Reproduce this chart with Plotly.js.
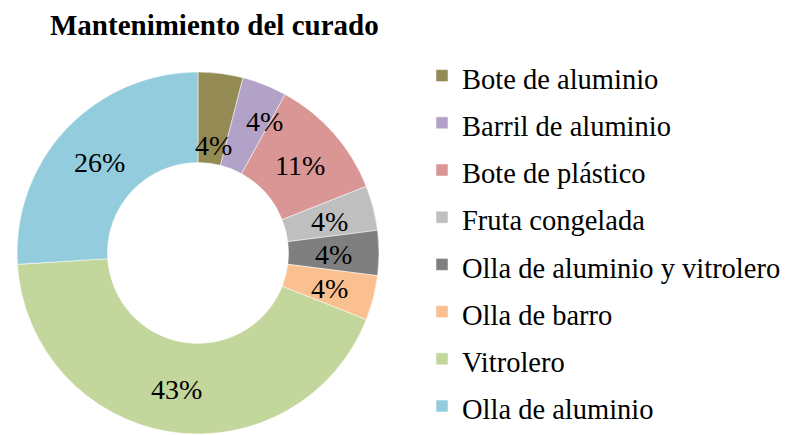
<!DOCTYPE html>
<html><head><meta charset="utf-8">
<script src="https://cdn.plot.ly/plotly-3.0.1.min.js"></script>
<style>html,body{margin:0;padding:0;background:#fff}</style>
</head><body>
<div id="chart" style="width:787px;height:435px"></div>
<script>
const categories = ["Bote de aluminio","Barril de aluminio","Bote de plástico","Fruta congelada","Olla de aluminio y vitrolero","Olla de barro","Vitrolero","Olla de aluminio"];
const values = [4,4,11,4,4,4,43,26];
const colors = ["#948A54","#B3A2C7","#D99694","#BFBFBF","#7F7F7F","#FAC090","#C3D69B","#93CDDD"];

const W = 787, H = 435;
const cx = 198, cy = 253, r = 181, holeFrac = 0.5;
// label placement tweaks (radius in px, extra angle in degrees) for crowded small slices
const labelTweak = {0: {r: 111, da: 1}, 1: {r: 149, da: 5}};

const trace = {
  type: 'pie',
  labels: categories.map(c => '<span style="font-size:28.5px">' + c + '</span>'),
  values: values,
  sort: false,
  direction: 'clockwise',
  rotation: 0,
  hole: holeFrac,
  marker: {colors: colors, line: {color: '#ffffff', width: 0.5}},
  textinfo: 'none',
  hoverinfo: 'none',
  domain: {x: [(cx - r) / W, (cx + r) / W], y: [(H - cy - r) / H, (H - cy + r) / H]}
};

const total = values.reduce((a, b) => a + b, 0);
let cum = 0;
const annotations = values.map((v, i) => {
  const mid = (cum + v / 2) / total * 360;
  cum += v;
  const tw = labelTweak[i] || {};
  const rr = tw.r !== undefined ? tw.r : r * (1 + holeFrac) / 2;
  const a = (mid + (tw.da || 0)) * Math.PI / 180;
  const px = cx + rr * Math.sin(a), py = cy - rr * Math.cos(a) + 2;
  return {
    xref: 'paper', yref: 'paper', x: px / W, y: 1 - py / H,
    text: Math.round(v / total * 100) + '%', showarrow: false,
    xanchor: 'center', yanchor: 'middle',
    font: {family: 'Liberation Serif', size: 28, color: '#000'}
  };
});

const layout = {
  width: W, height: H,
  margin: {l: 0, r: 0, t: 0, b: 0},
  paper_bgcolor: '#fff',
  title: {text: '<b>Mantenimiento del curado</b>', font: {family: 'Liberation Serif', size: 29, color: '#000'},
          x: 50 / W, xanchor: 'left', y: 1 - 25 / H, yanchor: 'middle', xref: 'paper', yref: 'paper'},
  showlegend: true,
  legend: {font: {family: 'Liberation Serif', size: 34, color: '#000'},
           x: 422 / W, xanchor: 'left', y: 1 - 59 / H, yanchor: 'top', traceorder: 'normal',
           bgcolor: 'rgba(0,0,0,0)'},
  annotations: annotations
};
Plotly.newPlot('chart', [trace], layout, {displayModeBar: false, staticPlot: true});
</script>
</body></html>
